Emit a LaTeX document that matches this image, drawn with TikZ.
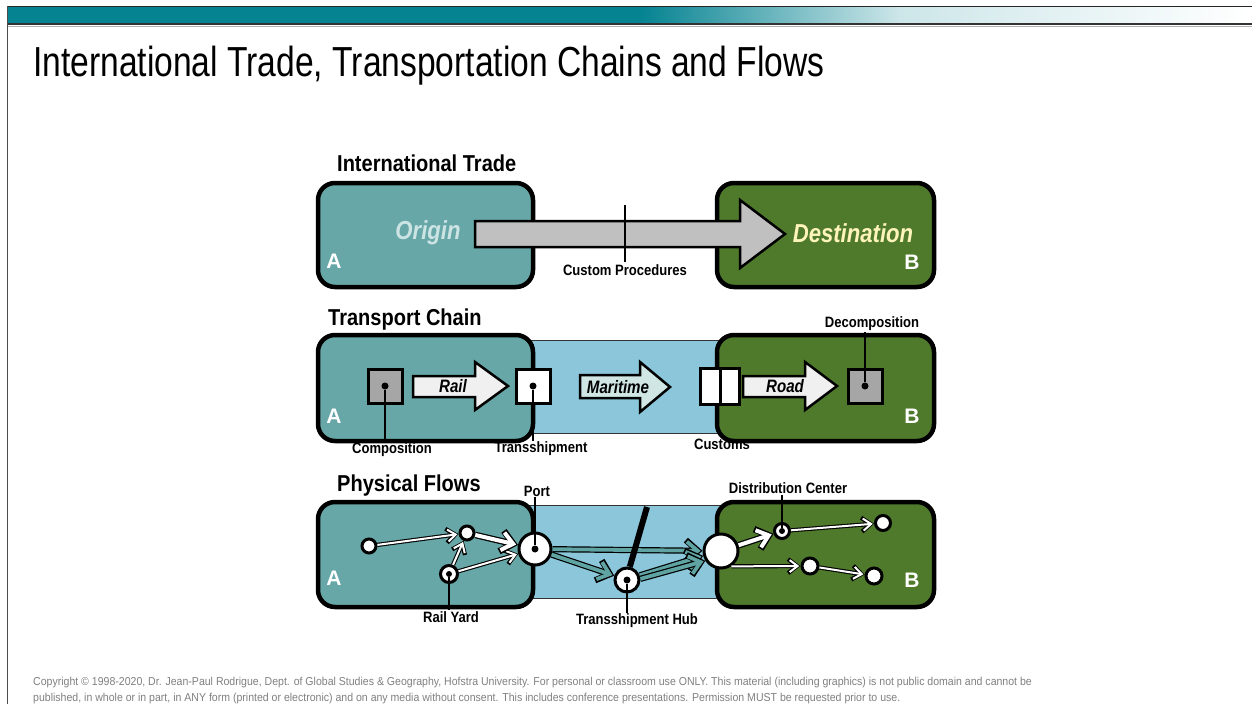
\documentclass[tikz,border=0pt]{standalone}
\usepackage{fontspec}
\setmainfont{Liberation Sans}
\usetikzlibrary{arrows.meta,positioning,calc}

\definecolor{barteal}{RGB}{5,131,145}
\definecolor{origteal}{RGB}{103,167,168}
\definecolor{destgreen}{RGB}{79,122,44}
\definecolor{bandblue}{RGB}{139,198,218}
\definecolor{arrowgray}{RGB}{192,192,192}
\definecolor{origtext}{RGB}{205,228,228}
\definecolor{desttext}{RGB}{255,244,185}
\definecolor{lightfill}{RGB}{240,240,240}
\definecolor{marfill}{RGB}{208,230,228}
\definecolor{squaregray}{RGB}{166,166,166}
\definecolor{flowteal}{RGB}{95,163,163}
\definecolor{footgray}{RGB}{128,128,128}

\newcommand{\cnd}[2][0.87]{\scalebox{#1}[1]{#2}}

\tikzset{
  region/.style={draw=black, line width=4.5pt, rounded corners=17pt},
  seaband/.style={draw=black!80, line width=1pt, fill=bandblue},
  heading/.style={font=\bfseries\fontsize{23}{26}\selectfont, anchor=west, inner sep=0pt},
  tag/.style={font=\bfseries\fontsize{15}{17}\selectfont, inner sep=1pt},
  mode/.style={font=\bfseries\itshape\fontsize{18}{20}\selectfont},
  corner/.style={font=\bfseries\fontsize{21}{24}\selectfont, text=white, inner sep=0pt},
  place/.style={circle, draw=black, line width=3pt, fill=white, inner sep=0pt},
  pin/.style={circle, fill=black, inner sep=0pt, minimum size=7pt},
  sq/.style={draw=black, line width=3pt, minimum size=34pt, inner sep=0pt},
  lead/.style={line width=2.7pt},
  fatarrow/.style={draw=black, line width=2.5pt, line join=miter},
  flow/.style={line width=4.2pt, -{Straight Barb[length=9pt,width=14pt]},
    postaction={draw=white, line width=2pt, -{Straight Barb[length=8pt,width=12pt]}, shorten >=1.2pt}},
  wideflow/.style={line width=6.5pt, -{Straight Barb[length=12pt,width=21pt]},
    postaction={draw=white, line width=4pt, -{Straight Barb[length=11pt,width=18pt]}, shorten >=1.8pt}},
  seaflow/.style={line width=6.2pt, -{Straight Barb[length=12pt,width=21pt]},
    postaction={draw=flowteal, line width=3.8pt, -{Straight Barb[length=11pt,width=18pt]}, shorten >=1.8pt}}
}

\begin{document}
\begin{tikzpicture}[x=1pt, y=-1pt]
    \useasboundingbox (0,0) rectangle (1252,704);
    \fill[white] (0,0) rectangle (1252,704);

    % Title bar
    \fill[barteal] (7,6) rectangle (640,24);
    \shade[left color=barteal, right color=barteal!20] (640,6) rectangle (900,24);
    \shade[left color=barteal!20, right color=white] (900,6) rectangle (1252,24);
    \draw[black!85, line width=1pt] (7,6) -- (1252,6);
    \draw[black!80, line width=2pt] (7,24) -- (1252,24);
    \draw[black!30, line width=1pt] (7,26) -- (1252,26);
    \draw[black!70, line width=0.8pt] (7,6) -- (7,704);
    \node[anchor=base west, inner sep=0pt, font=\fontsize{42}{46}\selectfont] (title) at (33,76)
        {\cnd[0.8]{International Trade, Transportation Chains and Flows}};

    % International trade
    \node[heading] (tradehead) at (337,163) {\cnd{International Trade}};
    \draw[region, fill=origteal] (318,183) rectangle (533,287);
    \draw[region, fill=destgreen] (717,183) rectangle (934,287);
    \draw[fatarrow, fill=arrowgray] (475,221) -- (740,221) -- (740,200) -- (785,234)
        -- (740,268) -- (740,247) -- (475,247) -- cycle;
    \coordinate (border1) at (625,205);
    \node[tag, anchor=north] (customproc) at (625,263) {\cnd{Custom Procedures}};
    \draw[lead] (border1) -- (625,262);
    \node[font=\bfseries\itshape\fontsize{26}{29}\selectfont, text=origtext] (origin) at (428,233) {\cnd[0.85]{Origin}};
    \node[font=\bfseries\itshape\fontsize{26}{29}\selectfont, text=desttext] (destination) at (853,233) {\cnd[0.85]{Destination}};
    \node[corner] (a1) at (334,261) {A};
    \node[corner] (b1) at (912,262) {B};

    % Transport chain
    \node[heading] (chainhead) at (328,320) {\cnd{Transport Chain}};
    \draw[seaband] (520,340) rectangle (730,433);
    \draw[region, fill=origteal] (318,335) rectangle (533,441);
    \draw[region, fill=destgreen] (717,335) rectangle (934,441);
    \node[sq, fill=squaregray] (comp) at (385,386) {};
    \node[sq, fill=white] (trans) at (533,386) {};
    \draw[sq, fill=white] (700,368) rectangle (720,404);
    \draw[sq, fill=white] (720,368) rectangle (739,404);
    \node[sq, fill=squaregray] (decomp) at (865,386) {};
    \draw[fatarrow, fill=lightfill] (413,376) -- (475,376) -- (475,362) -- (508,386)
        -- (475,410) -- (475,397) -- (413,397) -- cycle;
    \draw[fatarrow, fill=marfill] (580,375) -- (640,375) -- (640,362) -- (670,387)
        -- (640,412) -- (640,398) -- (580,398) -- cycle;
    \draw[fatarrow, fill=lightfill] (743,376) -- (805,376) -- (805,362) -- (837,386)
        -- (805,410) -- (805,397) -- (743,397) -- cycle;
    \node[mode] (rail) at (453,386) {\cnd[0.84]{Rail}};
    \node[mode] (maritime) at (618,387) {\cnd[0.84]{Maritime}};
    \node[mode] (road) at (785,386) {\cnd[0.84]{Road}};
    \node[tag] (complab) at (392,450) {\cnd{Composition}};
    \node[tag] (translab) at (541,449) {\cnd{Transshipment}};
    \node[tag] (customslab) at (722,444) {\cnd{Customs}};
    \node[tag] (decomplab) at (872,324) {\cnd{Decomposition}};
    \node[pin] (compdot) at (comp.center) {};
    \node[pin] (transdot) at (trans.center) {};
    \node[pin] (decompdot) at (decomp.center) {};
    \draw[lead] (compdot) -- (complab.north -| compdot);
    \draw[lead] (transdot) -- (translab.north -| transdot);
    \draw[lead] (decompdot) -- (decomplab.south -| decompdot);
    \node[corner] (a2) at (334,416) {A};
    \node[corner] (b2) at (912,416) {B};

    % Physical flows
    \node[heading] (flowhead) at (337,486) {\cnd{Physical Flows}};
    \draw[seaband] (520,505) rectangle (730,598);
    \draw[region, fill=origteal] (318,502) rectangle (533,607);
    \draw[region, fill=destgreen] (717,502) rectangle (934,607);
    \node[place, minimum size=14pt] (o1) at (369,546) {};
    \node[place, minimum size=14pt] (o2) at (467,533) {};
    \node[place, minimum size=17pt] (yard) at (449,574) {};
    \node[place, minimum size=32pt] (port) at (535,549) {};
    \node[place, minimum size=24pt] (hub) at (627,580) {};
    \node[place, minimum size=34pt] (gate) at (721,551) {};
    \node[place, minimum size=15pt] (dc) at (782,531) {};
    \node[place, minimum size=15pt] (d1) at (883,523) {};
    \node[place, minimum size=16pt] (d2) at (810,566) {};
    \node[place, minimum size=16pt] (d3) at (874,576) {};
    \draw[flow] (o1) -- (o2);
    \draw[flow] (yard) -- (o2);
    \draw[flow] (yard) -- (port);
    \draw[wideflow] (o2) -- (port);
    \draw[seaflow] (port) -- (gate);
    \draw[seaflow] (port) -- (hub);
    \draw[seaflow] (hub.20) -- (gate.195);
    \draw[seaflow] (hub.5) -- (gate.212);
    \draw[wideflow] (gate) -- (dc);
    \draw[flow] (dc) -- (d1);
    \draw[flow] (gate.-56) -- (d2);
    \draw[flow] (d2) -- (d3);
    \coordinate (cut) at (647,507);
    \draw[line width=6pt] (cut) -- (hub.78);
    \node[tag] (portlab) at (537,491) {\cnd{Port}};
    \node[tag] (yardlab) at (451,617) {\cnd{Rail Yard}};
    \node[tag] (hublab) at (637,621) {\cnd{Transshipment Hub}};
    \node[tag] (dclab) at (788,488) {\cnd{Distribution Center}};
    \node[pin] (portdot) at (port.center) {};
    \node[pin, minimum size=6pt] (yarddot) at (yard.center) {};
    \node[pin] (hubdot) at (hub.center) {};
    \node[pin, minimum size=6pt] (dcdot) at (dc.center) {};
    \draw[lead] (portdot) -- (portlab.south -| portdot);
    \draw[lead] (yarddot) -- (yardlab.north -| yarddot);
    \draw[lead] (hubdot) -- (hublab.north -| hubdot);
    \draw[lead] (dcdot) -- (dclab.south -| dcdot);
    \node[corner] (a3) at (334,578) {A};
    \node[corner] (b3) at (912,580) {B};

    % Footer
    \node[anchor=west, inner sep=0pt, text=footgray, font=\fontsize{11.5}{13}\selectfont] (copy1) at (33,683)
        {\cnd[0.917]{Copyright \textcopyright{} 1998-2020, Dr. Jean-Paul Rodrigue, Dept. of Global Studies \& Geography, Hofstra University. For personal or classroom use ONLY. This material (including graphics) is not public domain and cannot be}};
    \node[anchor=west, inner sep=0pt, text=footgray, font=\fontsize{11.5}{13}\selectfont] (copy2) at (33,699)
        {\cnd[0.917]{published, in whole or in part, in ANY form (printed or electronic) and on any media without consent. This includes conference presentations. Permission MUST be requested prior to use.}};
\end{tikzpicture}
\end{document}
